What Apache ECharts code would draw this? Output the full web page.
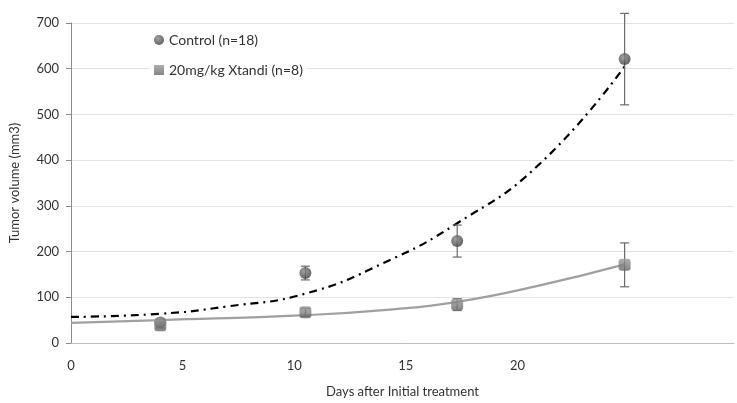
<!DOCTYPE html>
<html><head><meta charset="utf-8">
<script src="https://cdn.jsdelivr.net/npm/echarts@6/dist/echarts.min.js"></script>
<style>html,body{margin:0;padding:0;background:#fff}#c{width:737px;height:403px}</style>
</head><body><div id="c"></div>
<script>
const days = [4, 10.5, 17.3, 24.8];
const controlMean = [45, 153, 223, 621];
const controlErr = [6, 15, 35, 100];
const xtandiMean = [39, 67, 84, 171];
const xtandiErr = [6, 9, 13, 48];
const controlTrendX = [0, 4, 7, 10.5, 14, 17.3, 21, 24.8];
const controlTrendY = [57, 64, 80, 108, 175, 262, 392, 605];
const xtandiTrendX = [0, 4, 10.5, 14, 17.3, 21, 24.8];
const xtandiTrendY = [44, 50, 61, 72, 90, 126, 172];
const xTicks = [0, 5, 10, 15, 20];
const yTicks = [0, 100, 200, 300, 400, 500, 600, 700];
const seriesNames = ['Control (n=18)', '20mg/kg Xtandi (n=8)'];

const FONT = 'Lato';
const pairs = (xs, ys) => xs.map((x, i) => [x, ys[i]]);
const errData = (xs, m, e) => xs.map((x, i) => [x, m[i] - e[i], m[i] + e[i]]);
function errRender(params, api) {
  const x = api.value(0);
  const lo = api.coord([x, api.value(1)]);
  const hi = api.coord([x, api.value(2)]);
  const w = 4.5;
  const st = {stroke: '#6b6b6b', lineWidth: 1.2};
  return {type: 'group', children: [
    {type: 'line', shape: {x1: lo[0], y1: lo[1], x2: hi[0], y2: hi[1]}, style: st},
    {type: 'line', shape: {x1: lo[0] - w, y1: lo[1], x2: lo[0] + w, y2: lo[1]}, style: st},
    {type: 'line', shape: {x1: hi[0] - w, y1: hi[1], x2: hi[0] + w, y2: hi[1]}, style: st}
  ]};
}
const circleFill = {type: 'radial', x: 0.4, y: 0.35, r: 0.7, colorStops: [{offset: 0, color: '#8a8a8a'}, {offset: 1, color: '#383838'}]};
const squareFill = {type: 'linear', x: 0, y: 0, x2: 0, y2: 1, colorStops: [{offset: 0, color: '#9a9a9a'}, {offset: 1, color: '#666666'}]};

const chart = echarts.init(document.getElementById('c'), null, {renderer: 'canvas'});
chart.setOption({
  animation: false,
  backgroundColor: '#fff',
  textStyle: {fontFamily: FONT},
  grid: {left: 54, right: 2, top: 23, bottom: 60, containLabel: false},
  legend: {
    orient: 'vertical', left: 150, top: 30, itemGap: 14, itemWidth: 10, itemHeight: 10,
    backgroundColor: '#fff', padding: [2, 4],
    data: [{name: seriesNames[0], icon: 'circle'}, {name: seriesNames[1], icon: 'rect'}],
    textStyle: {fontFamily: FONT, fontSize: 14, color: '#333', lineHeight: 16}
  },
  xAxis: {
    type: 'value', min: 0, max: 29.7, interval: 5,
    name: 'Days after Initial treatment', nameLocation: 'middle', nameGap: 42,
    nameTextStyle: {fontFamily: FONT, fontSize: 13, color: '#333'},
    axisLine: {show: true, lineStyle: {color: '#bdbdbd'}},
    axisTick: {show: false},
    splitLine: {show: false},
    axisLabel: {fontFamily: FONT, fontSize: 13, color: '#333', margin: 16,
      formatter: v => xTicks.indexOf(v) >= 0 ? String(v) : ''}
  },
  yAxis: {
    type: 'value', min: 0, max: 700, interval: 100,
    name: 'Tumor volume (mm3)', nameLocation: 'middle', nameGap: 50,
    nameTextStyle: {fontFamily: FONT, fontSize: 13, color: '#333'},
    axisLine: {show: true, lineStyle: {color: '#8c8c8c'}},
    axisTick: {show: true, inside: false, length: 5, lineStyle: {color: '#8c8c8c'}},
    splitLine: {show: true, lineStyle: {color: '#e3e3e3', width: 1}},
    axisLabel: {fontFamily: FONT, fontSize: 13, color: '#333', margin: 12,
      formatter: v => yTicks.indexOf(v) >= 0 ? String(v) : ''}
  },
  series: [
    {type: 'line', name: 'ctrlTrend', data: pairs(controlTrendX, controlTrendY), smooth: 0.5, showSymbol: false, silent: true,
      lineStyle: {color: '#000', width: 2.2, type: [8, 5, 2, 5]}, z: 3},
    {type: 'line', name: 'xtTrend', data: pairs(xtandiTrendX, xtandiTrendY), smooth: 0.5, showSymbol: false, silent: true,
      lineStyle: {color: '#a0a0a0', width: 2.2}, z: 3},
    {type: 'custom', name: 'ctrlErr', renderItem: errRender, data: errData(days, controlMean, controlErr), clip: false, z: 4, encode: {x: 0, y: [1, 2]}},
    {type: 'custom', name: 'xtErr', renderItem: errRender, data: errData(days, xtandiMean, xtandiErr), clip: false, z: 4, encode: {x: 0, y: [1, 2]}},
    {type: 'scatter', name: seriesNames[0], data: pairs(days, controlMean), symbol: 'circle', symbolSize: 12,
      itemStyle: {color: circleFill}, z: 5},
    {type: 'scatter', name: seriesNames[1], data: pairs(days, xtandiMean), symbol: 'roundRect', symbolSize: 12,
      itemStyle: {color: squareFill}, z: 6}
  ]
});
</script></body></html>
